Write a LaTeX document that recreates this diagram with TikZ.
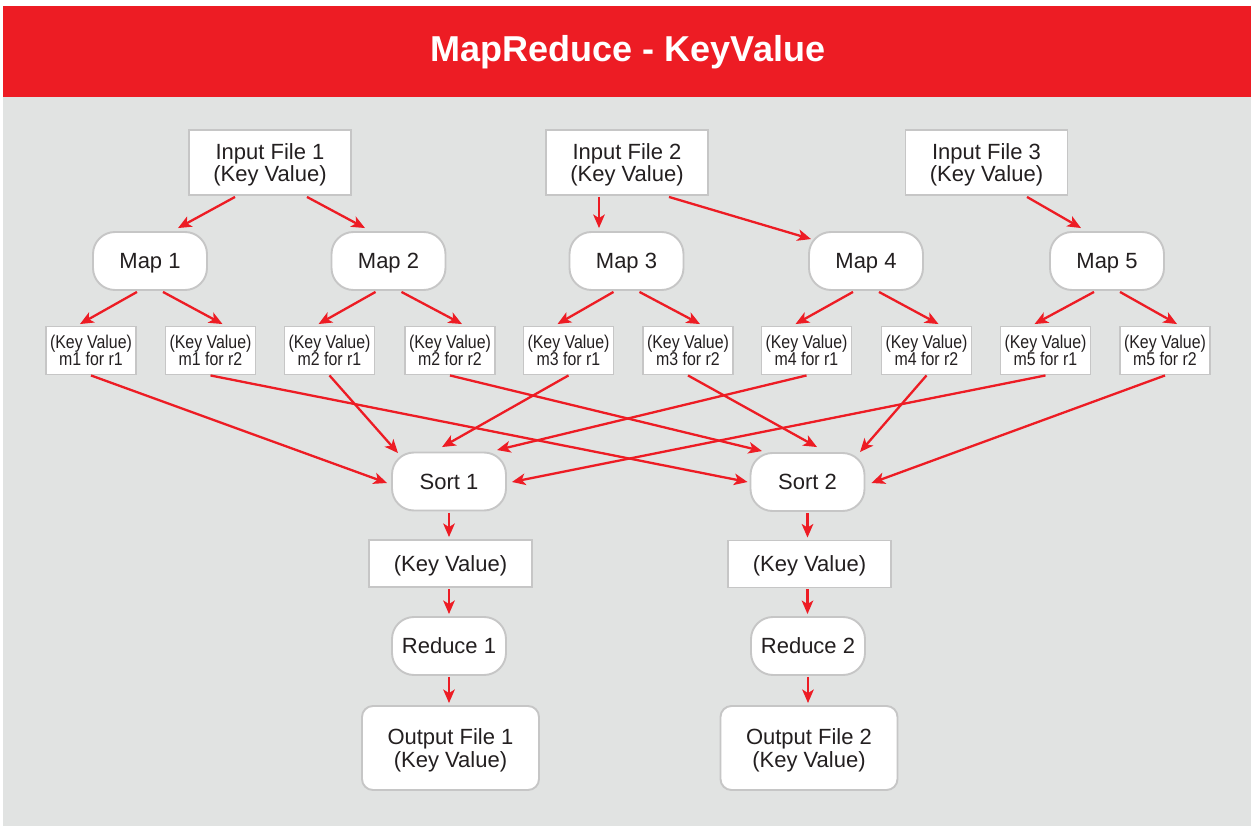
\documentclass[tikz,border=0pt]{standalone}
\usepackage{fontspec}
\setmainfont{Liberation Sans}
\newfontfamily\condfont[FakeStretch=0.86]{Liberation Sans}
\usetikzlibrary{arrows.meta,calc}
\definecolor{mrred}{HTML}{ED1C24}
\definecolor{bggray}{HTML}{E1E3E2}
\definecolor{bdgray}{HTML}{C6C6C6}
\definecolor{txt}{HTML}{231F20}
\begin{document}
\begin{tikzpicture}[x=1pt,y=-1pt,
  box/.style={draw=bdgray,line width=1.9pt,fill=white,text=txt,align=center,inner sep=0pt,text depth=0pt,font=\fontsize{22}{22.5}\selectfont},
  filebox/.style={box,minimum width=162pt,minimum height=65pt},
  procbox/.style={box,rounded corners=22pt,minimum width=114pt,minimum height=58pt},
  smallbox/.style={box,minimum width=90pt,minimum height=48pt,font=\condfont\fontsize{18.5}{17.5}\selectfont},
  kvbox/.style={box,minimum width=163pt,minimum height=47pt},
  outbox/.style={box,rounded corners=11pt,minimum width=177pt,minimum height=84pt},
  titletext/.style={text=white,font=\bfseries\fontsize{36}{38}\selectfont,inner sep=0pt},
  arr/.style={draw=mrred,line width=2.3pt,-{Stealth[length=13.5pt,width=11.5pt,inset=3.5pt]}}
]
\useasboundingbox (0,0) rectangle (1251,826);
\fill[white] (0,0) rectangle (1251,826);
\fill[bggray] (3,97) rectangle (1251,826);
\fill[mrred] (3,6) rectangle (1251,97);
\node[titletext,anchor=base] (title) at (628,62) {MapReduce - KeyValue};

% input files
\node[filebox] (in1) at (270,162.5) {Input File 1\\(Key Value)};
\node[filebox] (in2) at (627,162.5) {Input File 2\\(Key Value)};
\node[filebox] (in3) at (986.5,162.5) {Input File 3\\(Key Value)};

% maps
\node[procbox] (map1) at (150,261) {Map 1};
\node[procbox] (map2) at (388.5,261) {Map 2};
\node[procbox] (map3) at (626.5,261) {Map 3};
\node[procbox] (map4) at (866,261) {Map 4};
\node[procbox] (map5) at (1107,261) {Map 5};

% intermediate
\node[smallbox] (s11) at (91,350.5) {(Key Value)\\m1 for r1};
\node[smallbox] (s12) at (210.5,350.5) {(Key Value)\\m1 for r2};
\node[smallbox] (s21) at (329.5,350.5) {(Key Value)\\m2 for r1};
\node[smallbox] (s22) at (450,350.5) {(Key Value)\\m2 for r2};
\node[smallbox] (s31) at (568.5,350.5) {(Key Value)\\m3 for r1};
\node[smallbox] (s32) at (688,350.5) {(Key Value)\\m3 for r2};
\node[smallbox] (s41) at (806.5,350.5) {(Key Value)\\m4 for r1};
\node[smallbox] (s42) at (926.5,350.5) {(Key Value)\\m4 for r2};
\node[smallbox] (s51) at (1045.5,350.5) {(Key Value)\\m5 for r1};
\node[smallbox] (s52) at (1165,350.5) {(Key Value)\\m5 for r2};

% sorts
\node[procbox] (sort1) at (449,481.5) {Sort 1};
\node[procbox] (sort2) at (807.5,482) {Sort 2};

\node[kvbox] (kv1) at (450.5,563.5) {(Key Value)};
\node[kvbox] (kv2) at (809.5,564) {(Key Value)};

\node[procbox] (red1) at (449,646) {Reduce 1};
\node[procbox] (red2) at (808,646) {Reduce 2};

\node[outbox] (out1) at (450.5,748) {Output File 1\\(Key Value)};
\node[outbox] (out2) at (809,748) {Output File 2\\(Key Value)};

% input -> map
\draw[arr] ($(in1.south)+(-35,1)$) -- ($(map1.north)+(28,-3)$);
\draw[arr] ($(in1.south)+(37,1)$) -- ($(map2.north)+(-23.5,-3)$);
\draw[arr] ($(in2.south)+(-28,1)$) -- ($(map3.north)+(-27.5,-3)$);
\draw[arr] ($(in2.south)+(42,1)$) -- ($(map4.north)+(-55,8)$);
\draw[arr] ($(in3.south)+(40.5,1)$) -- ($(map5.north)+(-26,-3)$);

% map -> intermediate
\foreach \i in {1,...,5}{
  \draw[arr] ($(map\i.south)+(-13,1)$) -- ($(s\i1.north)+(-11,-1.5)$);
  \draw[arr] ($(map\i.south)+(13,1)$) -- ($(s\i2.north)+(12,-1.5)$);
}

% intermediate -> sort 1
\draw[arr] (s11.south) -- ($(sort1.west)+(-4,1.5)$);
\draw[arr] (s21.south) -- ($(sort1.north)+(-51,1.5)$);
\draw[arr] (s31.south) -- ($(sort1.north)+(-7,-4.5)$);
\draw[arr] (s41.south) -- ($(sort1.north)+(48,-1.5)$);
\draw[arr] (s51.south) -- ($(sort1.east)+(5,0.5)$);

% intermediate -> sort 2
\draw[arr] (s12.south) -- ($(sort2.west)+(-2,0)$);
\draw[arr] (s22.south) -- ($(sort2.north)+(-45.5,-1)$);
\draw[arr] (s32.south) -- ($(sort2.north)+(9.5,-5)$);
\draw[arr] (s42.south) -- ($(sort2.north)+(52.5,0)$);
\draw[arr] (s52.south) -- ($(sort2.east)+(6,1)$);

% vertical chains
\draw[arr] ($(sort1.south)+(0,1.5)$) -- ($(sort1.south |- kv1.north)+(0,-2)$);
\draw[arr] ($(kv1.south -| sort1.south)+(0,1)$) -- ($(sort1.south |- red1.north)+(0,-2)$);
\draw[arr] ($(red1.south)+(0,1)$) -- ($(red1.south |- out1.north)+(0,-2)$);

\draw[arr] ($(sort2.south)+(0,1.5)$) -- ($(sort2.south |- kv2.north)+(0,-2)$);
\draw[arr] ($(kv2.south -| sort2.south)+(0,1)$) -- ($(sort2.south |- red2.north)+(0,-2)$);
\draw[arr] ($(red2.south)+(0,1)$) -- ($(red2.south |- out2.north)+(0,-2)$);
\end{tikzpicture}
\end{document}
